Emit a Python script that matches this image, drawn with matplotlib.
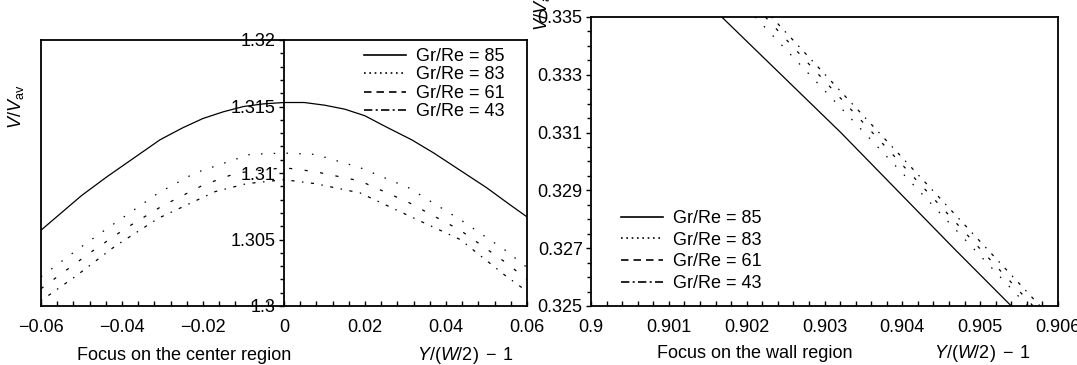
import matplotlib
matplotlib.use("Agg")
import matplotlib.pyplot as plt
from matplotlib.ticker import MultipleLocator, FuncFormatter
from matplotlib.lines import Line2D

plt.rcParams['font.family'] = ['Liberation Sans', 'DejaVu Sans']
plt.rcParams['font.size'] = 13
plt.rcParams['mathtext.fontset'] = 'custom'
plt.rcParams['mathtext.rm'] = 'Liberation Sans'
plt.rcParams['mathtext.it'] = 'Liberation Sans:italic'
plt.rcParams['mathtext.bf'] = 'Liberation Sans:bold'

# ---------------- data: centre region ----------------
x85_c = [-0.06, -0.05, -0.0438, -0.0306, -0.025, -0.02, -0.015, -0.01, -0.005, 0.0,
         0.005, 0.01, 0.015, 0.02, 0.025, 0.0315, 0.037, 0.043, 0.05, 0.0554, 0.06]
y85_c = [1.3057, 1.3083, 1.3097, 1.3125, 1.3134, 1.3141, 1.3146, 1.3150, 1.3152, 1.3153,
         1.3153, 1.3151, 1.3148, 1.3143, 1.3135, 1.3125, 1.3115, 1.3103, 1.3089, 1.3077, 1.3067]

x83_c = [-0.06, -0.0512, -0.0438, -0.0310, -0.0220, -0.0084, 0.0, 0.0077, 0.0188, 0.0307, 0.0435, 0.0546, 0.06]
y83_c = [1.3022, 1.3042, 1.3058, 1.3085, 1.3100, 1.3114, 1.3115, 1.3114, 1.3104, 1.3089, 1.3065, 1.3042, 1.3029]

x61_c = [-0.06, -0.0479, -0.0393, -0.0302, -0.0199, -0.0117, 0.0, 0.0077, 0.0188, 0.0307, 0.0435, 0.0546, 0.06]
y61_c = [1.3013, 1.3040, 1.3058, 1.3075, 1.3091, 1.3100, 1.3104, 1.3101, 1.3094, 1.3078, 1.3057, 1.3033, 1.3020]

x43_c = [-0.06, -0.0516, -0.0417, -0.0310, -0.0170, -0.0092, 0.0, 0.0077, 0.0188, 0.0307, 0.0435, 0.0546, 0.06]
y43_c = [1.3004, 1.3022, 1.3045, 1.3066, 1.3086, 1.3092, 1.3095, 1.3092, 1.3085, 1.3068, 1.3050, 1.3023, 1.3011]

# ---------------- data: wall region ----------------
x85_w = [0.90168, 0.90321, 0.90466, 0.90540]
y85_w = [0.335, 0.331, 0.327, 0.325]
x83_w = [0.90211, 0.90561]
y83_w = [0.335, 0.325]
x61_w = [0.90224, 0.90568]
y61_w = [0.335, 0.325]
x43_w = [0.90232, 0.90577]
y43_w = [0.335, 0.325]

labels = ['Gr/Re = 85', 'Gr/Re = 83', 'Gr/Re = 61', 'Gr/Re = 43']

center_xticks = [-0.06, -0.04, -0.02, 0, 0.02, 0.04, 0.06]
center_yticks = [1.3, 1.305, 1.31, 1.315, 1.32]
wall_xticks = [0.9, 0.901, 0.902, 0.903, 0.904, 0.905, 0.906]
wall_yticks = [0.325, 0.327, 0.329, 0.331, 0.333, 0.335]

# ---------------- styles ----------------
plot_styles = ['-', (0, (1.2, 9)), (0, (2.5, 10)), (0, (1.2, 6, 2.5, 6))]
legend_styles = ['-', (0, (1, 2.2)), (0, (4.5, 3)), (0, (5, 2, 1.2, 2))]

def fmt(v, pos=None):
    s = f'{v:g}'
    return s.replace('-', '\u2212')

fig = plt.figure(figsize=(10.77, 3.65), dpi=100)

W, H = 1077.0, 365.0
axL = fig.add_axes([41 / W, 1 - 306 / H, (527 - 41) / W, (306 - 40) / H])
axR = fig.add_axes([591 / W, 1 - 306 / H, (1058 - 591) / W, (306 - 17) / H])

# ---- centre panel ----
for (xs, ys), ls in zip([(x85_c, y85_c), (x83_c, y83_c), (x61_c, y61_c), (x43_c, y43_c)], plot_styles):
    axL.plot(xs, ys, color='black', lw=0.9, linestyle=ls)

axL.set_xlim(-0.06, 0.06)
axL.set_ylim(1.3, 1.32)
axL.set_xticks(center_xticks)
axL.set_yticks(center_yticks)
axL.xaxis.set_minor_locator(MultipleLocator(0.004))
axL.yaxis.set_minor_locator(MultipleLocator(0.001))
axL.xaxis.set_major_formatter(FuncFormatter(fmt))
axL.yaxis.set_major_formatter(FuncFormatter(fmt))
axL.spines['left'].set_position(('data', 0))
axL.plot([0, 0], [0, 1], transform=axL.transAxes, color='black', lw=1.3, clip_on=False)

# ---- wall panel ----
for (xs, ys), ls in zip([(x85_w, y85_w), (x83_w, y83_w), (x61_w, y61_w), (x43_w, y43_w)], plot_styles):
    axR.plot(xs, ys, color='black', lw=0.9, linestyle=ls)

axR.set_xlim(0.9, 0.906)
axR.set_ylim(0.325, 0.335)
axR.set_xticks(wall_xticks)
axR.set_yticks(wall_yticks)
axR.xaxis.set_minor_locator(MultipleLocator(0.0002))
axR.yaxis.set_minor_locator(MultipleLocator(0.0005))
axR.xaxis.set_major_formatter(FuncFormatter(fmt))
axR.yaxis.set_major_formatter(FuncFormatter(fmt))

for ax in (axL, axR):
    for sp in ax.spines.values():
        sp.set_linewidth(1.3)
    ax.tick_params(axis='x', which='both', direction='in', length=3.5, width=1.0, pad=9, labelsize=13)
    ax.tick_params(axis='y', which='major', direction='out', length=3.5, width=1.0, pad=2.5, labelsize=13)
    ax.tick_params(axis='y', which='minor', direction='out', length=3, width=1.0)
    ax.set_facecolor('none')

# ---- legends ----
handles = [Line2D([], [], color='black', lw=1.2, linestyle=ls) for ls in legend_styles]
fig.legend(handles, labels, loc='upper left', bbox_to_anchor=(364 / W, 1 - 48 / H),
           bbox_transform=fig.transFigure, frameon=False, borderpad=0, borderaxespad=0,
           handlelength=2.3, handletextpad=0.6, labelspacing=0.08, fontsize=13)
fig.legend(handles, labels, loc='upper left', bbox_to_anchor=(621 / W, 1 - 210 / H),
           bbox_transform=fig.transFigure, frameon=False, borderpad=0, borderaxespad=0,
           handlelength=2.3, handletextpad=0.6, labelspacing=0.26, fontsize=13)

# ---- axis titles ----
fig.text(184 / W, 1 - 355 / H, 'Focus on the center region', ha='center', va='center', fontsize=13)
fig.text(465 / W, 1 - 355 / H, r'$Y/(W/2)\;-\;1$', ha='center', va='center', fontsize=13)
fig.text(755 / W, 1 - 353 / H, 'Focus on the wall region', ha='center', va='center', fontsize=13)
fig.text(982 / W, 1 - 353 / H, r'$Y/(W/2)\;-\;1$', ha='center', va='center', fontsize=13)
fig.text(16 / W, 1 - 107 / H, r'$V/V_{\mathrm{av}}$', rotation=90, ha='center', va='center', fontsize=13)
fig.text(542 / W, 1 - 9 / H, r'$V/V_{\mathrm{av}}$', rotation=90, ha='center', va='center', fontsize=13)

fig.savefig('out.png', dpi=100)
